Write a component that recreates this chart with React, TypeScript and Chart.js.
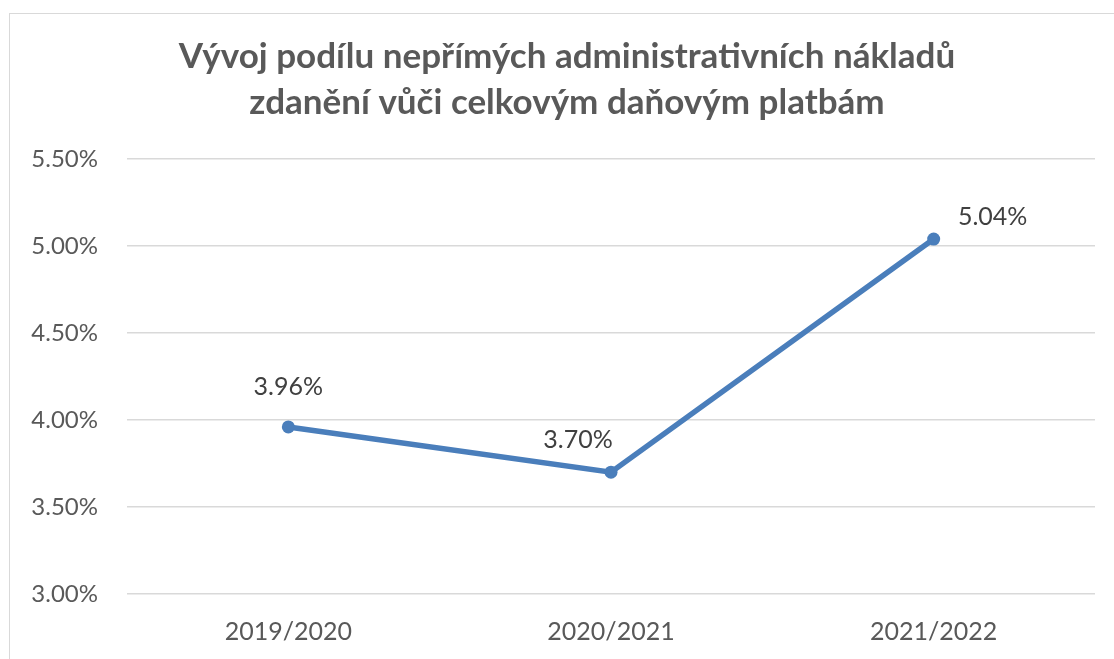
import React, { useEffect, useRef } from "react";
import { Chart, registerables } from "chart.js";

Chart.register(...registerables);

const categories = ["2019/2020", "2020/2021", "2021/2022"];
const values = [3.96, 3.7, 5.04];
const yMin = 3.0;
const yMax = 5.5;
const yStep = 0.5;
const titleLines = [
  "Vývoj podílu nepřímých administrativních nákladů",
  "zdanění vůči celkovým daňovým platbám",
];

const FONT = "Lato, 'Open Sans', sans-serif";
const TEXT = "#595959";
const LINE = "#4a7ebb";

const fmt = (v: number) => v.toFixed(2) + "%";

export default function App() {
  const ref = useRef<HTMLCanvasElement | null>(null);

  useEffect(() => {
    const canvas = ref.current;
    if (!canvas) return;
    const labelOffsets = [
      [0, -40],
      [-33, -32],
      [59, -22],
    ];
    const titlePlugin = {
      id: "customTitle",
      afterDraw(chart: any) {
        const ctx = chart.ctx;
        ctx.save();
        ctx.font = `bold 35px ${FONT}`;
        ctx.fillStyle = TEXT;
        ctx.textAlign = "center";
        ctx.textBaseline = "alphabetic";
        ctx.fillText(titleLines[0], chart.width / 2, 54);
        ctx.fillText(titleLines[1], chart.width / 2, 100);
        ctx.restore();
      },
    };
    const labelPlugin = {
      id: "pointLabels",
      afterDatasetsDraw(chart: any) {
        const ctx = chart.ctx;
        const meta = chart.getDatasetMeta(0);
        ctx.save();
        ctx.font = `25px ${FONT}`;
        ctx.fillStyle = "#404040";
        ctx.textAlign = "center";
        ctx.textBaseline = "middle";
        meta.data.forEach((el: any, i: number) => {
          const o = labelOffsets[i] || [0, -30];
          ctx.fillText(fmt(values[i]), el.x + o[0], el.y + o[1]);
        });
        ctx.restore();
      },
    };
    const chart = new Chart(canvas, {
      type: "line",
      data: {
        labels: categories,
        datasets: [
          {
            data: values,
            borderColor: LINE,
            backgroundColor: LINE,
            borderWidth: 5.5,
            pointRadius: 6.5,
            pointBackgroundColor: LINE,
            pointBorderColor: LINE,
            pointBorderWidth: 0,
            tension: 0,
          },
        ],
      },
      options: {
        responsive: false,
        animation: false,
        devicePixelRatio: 1,
        layout: { padding: { top: 145, right: 29, left: 0, bottom: 0 } },
        plugins: {
          legend: { display: false },
          title: { display: false },
          tooltip: { enabled: false },
        },
        scales: {
          x: {
            offset: true,
            grid: { display: false, drawTicks: false },
            border: { display: false },
            ticks: {
              color: TEXT,
              font: { family: FONT, size: 25 },
              padding: 23,
              maxRotation: 0,
            },
            afterFit: (s: any) => {
              s.height = 80;
            },
          },
          y: {
            min: yMin,
            max: yMax,
            grid: { color: "#d9d9d9", lineWidth: 1.5, drawTicks: false },
            border: { display: false },
            ticks: {
              stepSize: yStep,
              color: TEXT,
              font: { family: FONT, size: 24 },
              padding: 29,
              callback: (v: any) => fmt(Number(v)),
            },
            afterFit: (s: any) => {
              s.width = 117;
            },
          },
        },
      },
      plugins: [titlePlugin, labelPlugin],
    });
    return () => chart.destroy();
  }, []);

  return (
    <div
      style={{
        position: "fixed",
        left: 0,
        top: 0,
        width: 1114,
        height: 659,
        overflow: "hidden",
        background: "#ffffff",
      }}
    >
      <div
        style={{
          position: "absolute",
          left: 9,
          top: 13,
          width: 1114,
          height: 660,
          border: "1px solid #d9d9d9",
        }}
      >
        <canvas ref={ref} width={1114} height={660} style={{ display: "block" }} />
      </div>
    </div>
  );
}
